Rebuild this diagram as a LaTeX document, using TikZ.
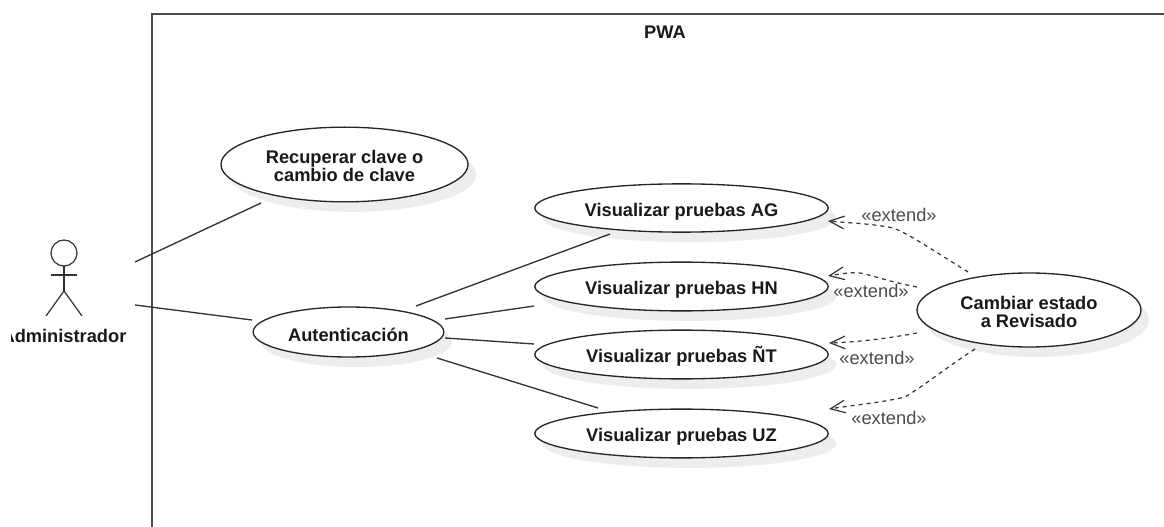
\documentclass[tikz,border=0pt]{standalone}
\usepackage{fontspec}
\setmainfont{Liberation Sans}
\usetikzlibrary{shapes.geometric,shadows,calc,arrows.meta}
\newcommand{\padone}{\rule{0pt}{15pt}}
\newcommand{\padtwo}{\rule{0pt}{12.5pt}}
\tikzset{
  x=0.75pt,y=-0.75pt,
  usecase/.style={draw=black!85,line width=1pt,fill=white,ellipse,inner sep=0pt,
    font=\bfseries\fontsize{13.7}{13.7}\selectfont,align=center,text=black!90,
    general shadow={shadow xshift=6pt,shadow yshift=-7.5pt,fill=black!7}},
  assoc/.style={draw=black!80,line width=1pt},
  extendline/.style={draw=black!80,line width=0.9pt,dash pattern=on 3pt off 3pt,
    -{Straight Barb[length=11pt,width=9.5pt,line width=0.9pt]}},
  stereo/.style={font=\fontsize{13.7}{14}\selectfont,text=black!70,inner sep=0pt},
  frameline/.style={draw=black!70,line width=1pt},
  actorline/.style={draw=black!80,line width=0.9pt},
  boldlabel/.style={font=\bfseries\fontsize{13.7}{14}\selectfont,text=black!90,inner sep=0pt},
}
\begin{document}
\begin{tikzpicture}
\useasboundingbox (0,0) rectangle (1164,527);
\fill[white] (0,0) rectangle (1164,527);
% system frame
\draw[frameline] (152,527) -- (152,14) -- (1164,14);
\node[boldlabel] (pwa) at (665,32) {PWA};
% actor
\begin{scope}
\clip (11,320) rectangle (150,350);
\node[boldlabel] (actor) at (64,336) {Administrador};
\end{scope}
\draw[actorline] ($(actor)+(0,-83)$) circle[radius=13];
\draw[actorline] ($(actor)+(0,-70)$) -- ($(actor)+(0,-45)$);
\draw[actorline] ($(actor)+(-13,-61)$) -- ($(actor)+(13,-61)$);
\draw[actorline] ($(actor)+(-18,-20)$) -- ($(actor)+(0,-45)$) -- ($(actor)+(18,-20)$);
% use cases
\node[usecase,minimum width=185.3pt,minimum height=56pt] (rec) at (344.5,164.5) {\padtwo Recuperar clave o\\cambio de clave};
\node[usecase,minimum width=220pt,minimum height=36.2pt] (ag) at (681.5,208) {\padone Visualizar pruebas AG};
\node[usecase,minimum width=220pt,minimum height=36.6pt] (hn) at (681.5,286.5) {\padone Visualizar pruebas HN};
\node[usecase,minimum width=220pt,minimum height=36.6pt] (nt) at (681.5,354.5) {\padone Visualizar pruebas ÑT};
\node[usecase,minimum width=220pt,minimum height=36.6pt] (uz) at (681.5,433.5) {\padone Visualizar pruebas UZ};
\node[usecase,minimum width=143pt,minimum height=37.5pt] (aut) at (348.5,332) {\padone Autenticación};
\node[usecase,minimum width=168pt,minimum height=55.5pt] (cam) at (1029,310) {\padtwo Cambiar estado\\a Revisado};
% associations
\draw[assoc] ($(actor)+(71,-74)$) -- ($(rec)+(-83.5,38.5)$);
\draw[assoc] ($(actor)+(71,-31)$) -- ($(aut)+(-96.5,-12)$);
\draw[assoc] ($(aut)+(67.5,-26)$) -- ($(ag)+(-71.5,26)$);
\draw[assoc] ($(aut)+(96.5,-13)$) -- ($(hn)+(-147.5,19.5)$);
\draw[assoc] ($(aut)+(96.5,6)$) -- ($(nt)+(-147.5,-10.5)$);
\draw[assoc] ($(aut)+(88.5,26)$) -- ($(uz)+(-83.5,-25.5)$);
% extends
\draw[extendline] ($(cam)+(-61,-38)$) .. controls (925,245) and (905,232) .. (893,228) .. controls (875,224) and (850,223) .. ($(ag)+(146.5,13)$);
\draw[extendline] ($(cam)+(-112,-23)$) .. controls (890,282) and (875,276) .. (860,273) .. controls (850,272) and (840,274) .. ($(hn)+(146.5,-10.5)$);
\draw[extendline] ($(cam)+(-112,23)$) .. controls (890,338) and (860,342) .. ($(nt)+(147.5,-11.5)$);
\draw[extendline] ($(cam)+(-54,39)$) .. controls (950,365) and (925,385) .. (905,397) .. controls (885,402) and (855,405) .. ($(uz)+(147.5,-24.5)$);
% stereotypes
\node[stereo] (e1) at (899,215) {«extend»};
\node[stereo] (e2) at (871,291) {«extend»};
\node[stereo] (e3) at (877,358) {«extend»};
\node[stereo] (e4) at (889,418) {«extend»};
\end{tikzpicture}
\end{document}
